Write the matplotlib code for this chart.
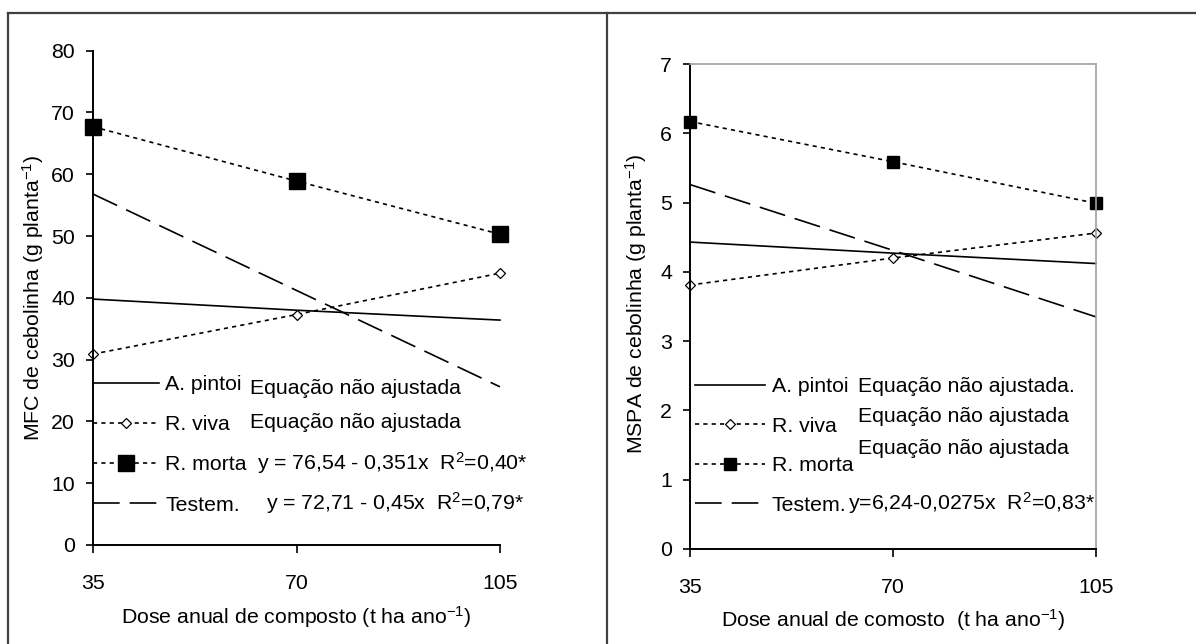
import matplotlib
matplotlib.use("Agg")
import matplotlib.pyplot as plt
from matplotlib.lines import Line2D

plt.rcParams['font.family'] = ['Liberation Sans', 'DejaVu Sans']
plt.rcParams['mathtext.fontset'] = 'custom'
plt.rcParams['mathtext.rm'] = 'Liberation Sans'
plt.rcParams['mathtext.it'] = 'Liberation Sans'
plt.rcParams['mathtext.default'] = 'regular'

# ---------------- data ----------------
doses = [35, 70, 105]
series_names = ["A. pintoi", "R. viva", "R. morta", "Testem."]

mfc_pintoi = [39.8, 38.0, 36.4]
mfc_viva = [30.9, 37.3, 44.0]
mfc_morta = [67.7, 58.9, 50.3]
mfc_testem = [56.8, 41.2, 25.6]
mfc_eqs = ["Equação não ajustada", "Equação não ajustada",
           "y = 76,54 - 0,351x  R$^{2}$=0,40*", "y = 72,71 - 0,45x  R$^{2}$=0,79*"]

mspa_pintoi = [4.43, 4.27, 4.12]
mspa_viva = [3.81, 4.20, 4.56]
mspa_morta = [6.17, 5.59, 4.99]
mspa_testem = [5.26, 4.31, 3.35]
mspa_eqs = ["Equação não ajustada.", "Equação não ajustada",
            "Equação não ajustada", "y=6,24-0,0275x  R$^{2}$=0,83*"]

mfc_yticks = [0, 10, 20, 30, 40, 50, 60, 70, 80]
mspa_yticks = [0, 1, 2, 3, 4, 5, 6, 7]

W, H = 1196, 644
FS = 15.3
fig = plt.figure(figsize=(W / 100, H / 100), dpi=100)

def px_axes(x0, x1, ytop, ybot):
    return fig.add_axes([x0 / W, 1 - ybot / H, (x1 - x0) / W, (ybot - ytop) / H])

def fx(x):
    return x / W

def fy(y):
    return 1 - y / H

def draw_panel(ax, pintoi, viva, morta, testem, yticks, ymax, big):
    lw = 1.2
    ms_sq = 11 if big else 8
    ax.plot(doses, pintoi, color='black', lw=lw, label=series_names[0], clip_on=False)
    ax.plot(doses, viva, color='black', lw=lw, dashes=(2.5, 2.5), marker='D',
            ms=5, mfc='white', mec='black', mew=0.9, label=series_names[1], clip_on=False)
    ax.plot(doses, morta, color='black', lw=lw, dashes=(2.5, 2.5), marker='s',
            ms=ms_sq, mfc='black', mec='black', label=series_names[2], clip_on=False)
    ax.plot(doses, testem, color='black', lw=lw, dashes=(16, 6), label=series_names[3], clip_on=False)
    ax.set_xlim(35, 105)
    ax.set_ylim(0, ymax)
    ax.set_xticks(doses)
    ax.set_yticks(yticks)
    ax.tick_params(axis='x', direction='out', length=6, width=1.2, pad=15, labelsize=FS)
    ax.tick_params(axis='y', direction='out', length=5, width=1.2, pad=8, labelsize=FS)
    for s in ['left', 'bottom']:
        ax.spines[s].set_linewidth(1.4)
        ax.spines[s].set_color('black')

# ---------------- left panel ----------------
axL = px_axes(93, 500, 50.7, 545)
draw_panel(axL, mfc_pintoi, mfc_viva, mfc_morta, mfc_testem, mfc_yticks, 80, True)
axL.spines['top'].set_visible(False)
axL.spines['right'].set_visible(False)

legL = axL.legend(loc='upper left', bbox_to_anchor=(fx(93), fy(375)),
                  bbox_transform=fig.transFigure, frameon=False, fontsize=FS,
                  handlelength=3.1, handletextpad=0.3, labelspacing=1.0,
                  borderpad=0, borderaxespad=0, numpoints=1)

fig.text(fx(250), fy(388), mfc_eqs[0], fontsize=FS, va='center', ha='left')
fig.text(fx(250), fy(422), mfc_eqs[1], fontsize=FS, va='center', ha='left')
fig.text(fx(257), fy(463), mfc_eqs[2], fontsize=FS, va='center', ha='left')
fig.text(fx(266), fy(503), mfc_eqs[3], fontsize=FS, va='center', ha='left')

fig.text(fx(33), fy(298), "MFC de cebolinha (g planta$^{-1}$)", fontsize=FS,
         rotation=90, va='center', ha='center')
fig.text(fx(296), fy(617), "Dose anual de composto (t ha ano$^{-1}$)", fontsize=FS,
         va='center', ha='center')

# ---------------- right panel ----------------
axR = px_axes(690, 1096, 64, 549)
draw_panel(axR, mspa_pintoi, mspa_viva, mspa_morta, mspa_testem, mspa_yticks, 7, False)
axR.spines['top'].set_color('#a0a0a0')
axR.spines['right'].set_color('#a0a0a0')
axR.spines['top'].set_linewidth(1.2)
axR.spines['right'].set_linewidth(1.2)

legR = axR.legend(loc='upper left', bbox_to_anchor=(fx(695), fy(377)),
                  bbox_transform=fig.transFigure, frameon=False, fontsize=FS,
                  handlelength=3.3, handletextpad=0.3, labelspacing=0.97,
                  borderpad=0, borderaxespad=0, numpoints=1)

fig.text(fx(858), fy(386), mspa_eqs[0], fontsize=FS, va='center', ha='left')
fig.text(fx(858), fy(417), mspa_eqs[1], fontsize=FS, va='center', ha='left')
fig.text(fx(858), fy(448), mspa_eqs[2], fontsize=FS, va='center', ha='left')
fig.text(fx(848), fy(503), mspa_eqs[3], fontsize=FS, va='center', ha='left')

fig.text(fx(636), fy(304), "MSPA de cebolinha (g planta$^{-1}$)", fontsize=FS,
         rotation=90, va='center', ha='center')
fig.text(fx(893), fy(620), "Dose anual de comosto  (t ha ano$^{-1}$)", fontsize=FS,
         va='center', ha='center')

# ---------------- outer frame ----------------
fc = '#404040'
fig.add_artist(Line2D([fx(8), 1], [fy(13), fy(13)], color=fc, lw=1.6, transform=fig.transFigure))
fig.add_artist(Line2D([fx(8), fx(8)], [fy(13), 0], color=fc, lw=1.6, transform=fig.transFigure))
fig.add_artist(Line2D([fx(607), fx(607)], [fy(13), 0], color=fc, lw=1.6, transform=fig.transFigure))

fig.savefig("out.png", dpi=100)
